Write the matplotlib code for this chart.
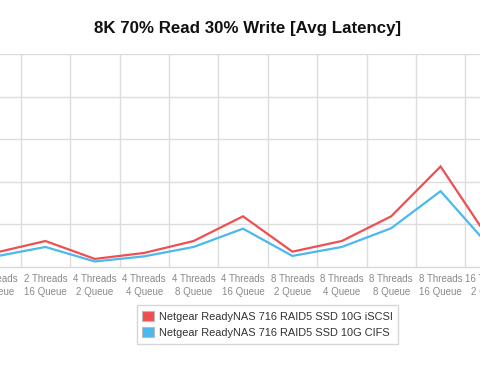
import matplotlib.pyplot as plt
from matplotlib.patches import Patch

plt.rcParams['font.family'] = ['Liberation Sans', 'DejaVu Sans']

categories = [
    "2 Threads\n8 Queue", "2 Threads\n16 Queue",
    "4 Threads\n2 Queue", "4 Threads\n4 Queue", "4 Threads\n8 Queue", "4 Threads\n16 Queue",
    "8 Threads\n2 Queue", "8 Threads\n4 Queue", "8 Threads\n8 Queue", "8 Threads\n16 Queue",
    "16 Threads\n2 Queue",
]
iscsi = [0.34, 0.61, 0.19, 0.33, 0.61, 1.19, 0.36, 0.61, 1.19, 2.36, 0.62]
cifs = [0.25, 0.47, 0.13, 0.25, 0.47, 0.90, 0.26, 0.47, 0.91, 1.78, 0.47]

series_names = ["Netgear ReadyNAS 716 RAID5 SSD 10G iSCSI",
                "Netgear ReadyNAS 716 RAID5 SSD 10G CIFS"]
red = '#ef4f51'
blue = '#4cb8ee'

W, H = 480, 367
fig = plt.figure(figsize=(W / 100, H / 100), dpi=100)

# plot area is wider than the figure (chart was cropped)
left_px, right_px = -28.7, 514.7
top_px, bottom_px = 54, 267
ax = fig.add_axes([left_px / W, 1 - bottom_px / H,
                   (right_px - left_px) / W, (bottom_px - top_px) / H])

x = list(range(len(categories)))
ax.plot(x, iscsi, color=red, lw=1.6, zorder=3, solid_joinstyle='miter')
ax.plot(x, cifs, color=blue, lw=1.6, zorder=3, solid_joinstyle='miter')

ax.set_xlim(-0.5, len(categories) - 0.5)
ax.set_ylim(0, 5)

for s in ['left', 'right', 'top']:
    ax.spines[s].set_visible(False)
ax.spines['bottom'].set_color('#d8d8d8')
ax.spines['bottom'].set_linewidth(1)

ax.set_yticks([1, 2, 3, 4, 5])
ax.set_yticklabels([])
ax.tick_params(axis='y', length=0)
ax.yaxis.grid(True, color='#dcdcdc', lw=1)

ax.set_xticks([i + 0.5 for i in range(len(categories) - 1)], minor=True)
ax.xaxis.grid(True, which='minor', color='#dcdcdc', lw=1)
ax.tick_params(axis='x', which='minor', length=0)
ax.set_xticks(x)
ax.set_xticklabels(categories, fontsize=7, color='#8a8a8a', linespacing=1.35)
ax.tick_params(axis='x', which='major', length=0, pad=5)
ax.set_axisbelow(True)

fig.text(248 / W, 1 - 29 / H, "8K 70% Read 30% Write [Avg Latency]",
         ha='center', va='center', fontsize=12.2, fontweight='bold', color='#111111')

handles = [Patch(facecolor=red, edgecolor='#bbbbbb', lw=0.8),
           Patch(facecolor=blue, edgecolor='#bbbbbb', lw=0.8)]
leg = fig.legend(handles, series_names, loc='upper center',
                 bbox_to_anchor=(267.5 / W, 1 - 300 / H), fontsize=7.9,
                 frameon=True, fancybox=False, edgecolor='#cccccc',
                 handlelength=1.05, handleheight=1.05, handletextpad=0.5,
                 borderpad=0.5, labelspacing=0.5, labelcolor='#333333')
leg.get_frame().set_linewidth(1)

fig.savefig('out.png', dpi=100, facecolor='white')
